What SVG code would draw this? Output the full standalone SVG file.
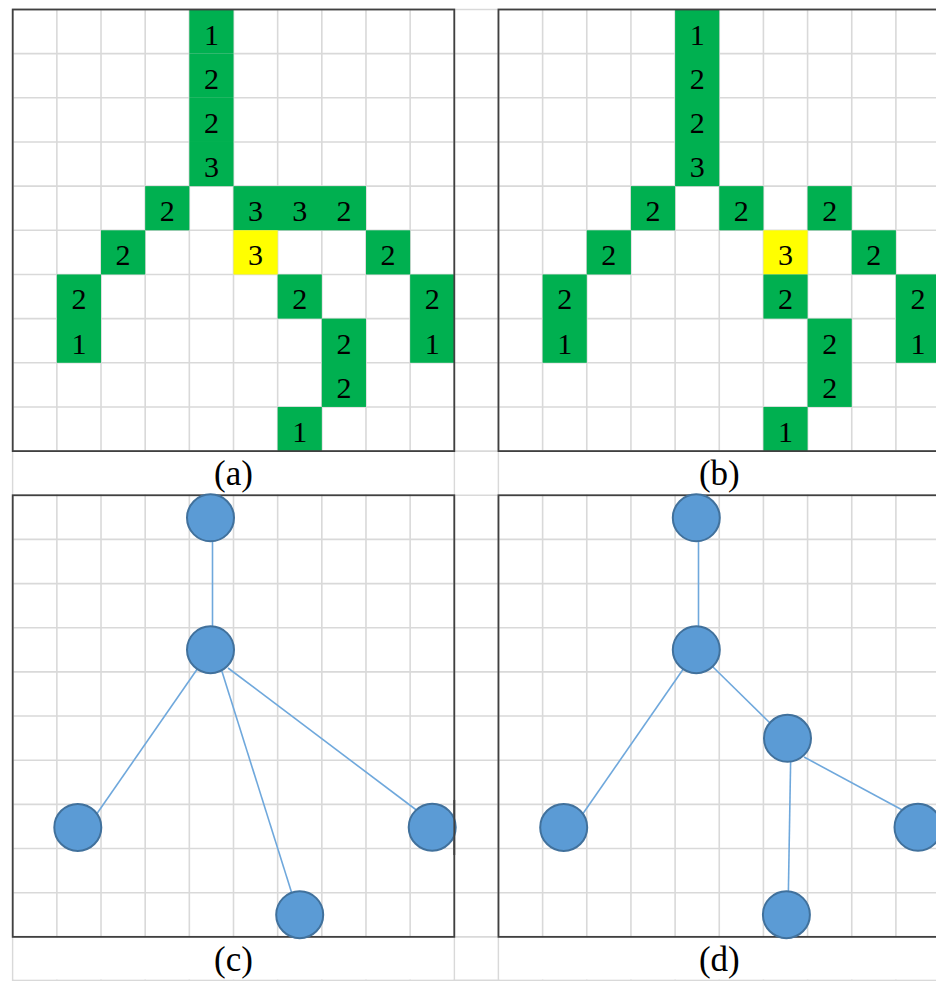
<svg xmlns="http://www.w3.org/2000/svg" width="936" height="981" viewBox="0 0 936 981">
<style>
.grid{stroke:#d9d9d9;stroke-width:1.6;fill:none}
.frame{stroke:#404040;stroke-width:1.8;fill:none}
.g{fill:#00b050}
.y{fill:#ffff00}
.num{font-family:"Liberation Serif","Times New Roman",serif;font-size:30px;fill:#000;text-anchor:middle}
.cap{font-family:"Liberation Serif","Times New Roman",serif;font-size:35px;fill:#000;text-anchor:middle}
.node{fill:#5b9bd5;stroke:#41719c;stroke-width:2}
.edge{stroke:#6fa8dc;stroke-width:1.6;fill:none}
</style>
<rect width="936" height="981" fill="#fff"/>
<g id="background-grid">
<path class="grid" d="M12.7 9.5V981M56.86 9.5V981M101.02 9.5V981M145.18 9.5V981M189.34 9.5V981M233.5 9.5V981M277.66 9.5V981M321.82 9.5V981M365.98 9.5V981M410.14 9.5V981M454.3 9.5V981M498.46 9.5V981M542.62 9.5V981M586.78 9.5V981M630.94 9.5V981M675.1 9.5V981M719.26 9.5V981M763.42 9.5V981M807.58 9.5V981M851.74 9.5V981M895.9 9.5V981"/>
<path class="grid" d="M12.7 9.5H936M12.7 53.66H936M12.7 97.82H936M12.7 141.98H936M12.7 186.14H936M12.7 230.3H936M12.7 274.46H936M12.7 318.62H936M12.7 362.78H936M12.7 406.94H936M12.7 451.1H936M12.7 495.26H936M12.7 539.42H936M12.7 583.58H936M12.7 627.74H936M12.7 671.9H936M12.7 716.06H936M12.7 760.22H936M12.7 804.38H936M12.7 848.54H936M12.7 892.7H936M12.7 936.86H936M12.7 980.2H936"/>
<rect x="13.6" y="452" width="439.8" height="42.4" fill="#fff"/>
<rect x="499.4" y="452" width="437" height="42.4" fill="#fff"/>
<rect x="13.6" y="937.8" width="439.8" height="41.6" fill="#fff"/>
<rect x="499.4" y="937.8" width="437" height="41.6" fill="#fff"/>
</g>
<g id="panel-a">
<g id="a-cells">
<rect class="g" x="189.34" y="9.5" width="44.16" height="44.16"/>
<rect class="g" x="189.34" y="53.66" width="44.16" height="44.16"/>
<rect class="g" x="189.34" y="97.82" width="44.16" height="44.16"/>
<rect class="g" x="189.34" y="141.98" width="44.16" height="44.16"/>
<rect class="g" x="145.18" y="186.14" width="44.16" height="44.16"/>
<rect class="g" x="233.5" y="186.14" width="132.48" height="44.16"/>
<rect class="g" x="101.02" y="230.3" width="44.16" height="44.16"/>
<rect class="y" x="233.5" y="230.3" width="44.16" height="44.16"/>
<rect class="g" x="365.98" y="230.3" width="44.16" height="44.16"/>
<rect class="g" x="56.86" y="274.46" width="44.16" height="88.32"/>
<rect class="g" x="277.66" y="274.46" width="44.16" height="44.16"/>
<rect class="g" x="410.14" y="274.46" width="44.16" height="88.32"/>
<rect class="g" x="321.82" y="318.62" width="44.16" height="88.32"/>
<rect class="g" x="277.66" y="406.94" width="44.16" height="44.16"/>
</g>
<g id="a-values">
<text class="num" x="211.42" y="44.5">1</text>
<text class="num" x="211.42" y="88.66">2</text>
<text class="num" x="211.42" y="132.82">2</text>
<text class="num" x="211.42" y="176.98">3</text>
<text class="num" x="167.26" y="221.14">2</text>
<text class="num" x="255.58" y="221.14">3</text>
<text class="num" x="299.74" y="221.14">3</text>
<text class="num" x="343.9" y="221.14">2</text>
<text class="num" x="123.1" y="265.3">2</text>
<text class="num" x="255.58" y="265.3">3</text>
<text class="num" x="388.06" y="265.3">2</text>
<text class="num" x="78.94" y="309.46">2</text>
<text class="num" x="299.74" y="309.46">2</text>
<text class="num" x="432.22" y="309.46">2</text>
<text class="num" x="78.94" y="353.62">1</text>
<text class="num" x="343.9" y="353.62">2</text>
<text class="num" x="432.22" y="353.62">1</text>
<text class="num" x="343.9" y="397.78">2</text>
<text class="num" x="299.74" y="441.94">1</text>
</g>
<rect class="frame" x="12.7" y="9.5" width="441.6" height="441.6"/>
<text class="cap" x="233.5" y="485">(a)</text>
</g>
<g id="panel-b">
<g id="b-cells">
<rect class="g" x="675.1" y="9.5" width="44.16" height="176.64"/>
<rect class="g" x="630.94" y="186.14" width="44.16" height="44.16"/>
<rect class="g" x="719.26" y="186.14" width="44.16" height="44.16"/>
<rect class="g" x="807.58" y="186.14" width="44.16" height="44.16"/>
<rect class="g" x="586.78" y="230.3" width="44.16" height="44.16"/>
<rect class="y" x="763.42" y="230.3" width="44.16" height="44.16"/>
<rect class="g" x="851.74" y="230.3" width="44.16" height="44.16"/>
<rect class="g" x="542.62" y="274.46" width="44.16" height="88.32"/>
<rect class="g" x="763.42" y="274.46" width="44.16" height="44.16"/>
<rect class="g" x="895.9" y="274.46" width="44.16" height="88.32"/>
<rect class="g" x="807.58" y="318.62" width="44.16" height="88.32"/>
<rect class="g" x="763.42" y="406.94" width="44.16" height="44.16"/>
</g>
<g id="b-values">
<text class="num" x="697.18" y="44.5">1</text>
<text class="num" x="697.18" y="88.66">2</text>
<text class="num" x="697.18" y="132.82">2</text>
<text class="num" x="697.18" y="176.98">3</text>
<text class="num" x="653.02" y="221.14">2</text>
<text class="num" x="741.34" y="221.14">2</text>
<text class="num" x="829.66" y="221.14">2</text>
<text class="num" x="608.86" y="265.3">2</text>
<text class="num" x="785.5" y="265.3">3</text>
<text class="num" x="873.82" y="265.3">2</text>
<text class="num" x="564.7" y="309.46">2</text>
<text class="num" x="785.5" y="309.46">2</text>
<text class="num" x="917.98" y="309.46">2</text>
<text class="num" x="564.7" y="353.62">1</text>
<text class="num" x="829.66" y="353.62">2</text>
<text class="num" x="917.98" y="353.62">1</text>
<text class="num" x="829.66" y="397.78">2</text>
<text class="num" x="785.5" y="441.94">1</text>
</g>
<rect class="frame" x="498.46" y="9.5" width="441.6" height="441.6"/>
<text class="cap" x="719.3" y="485">(b)</text>
</g>
<g id="panel-c-frame">
<rect class="frame" x="12.7" y="495.26" width="441.6" height="441.6"/>
<text class="cap" x="233.5" y="971">(c)</text>
</g>
<g id="panel-d-frame">
<rect class="frame" x="498.46" y="495.26" width="441.6" height="441.6"/>
<text class="cap" x="719.3" y="971">(d)</text>
</g>
<g id="connectors">
<line class="edge" x1="212.5" y1="535" x2="212.5" y2="632"/>
<line class="edge" x1="198" y1="668" x2="96" y2="815"/>
<line class="edge" x1="221.5" y1="670" x2="293" y2="897"/>
<line class="edge" x1="228" y1="668" x2="419" y2="812"/>
<line class="edge" x1="698.5" y1="535" x2="698.5" y2="632"/>
<line class="edge" x1="684" y1="668" x2="582" y2="815"/>
<line class="edge" x1="713" y1="667" x2="771" y2="724"/>
<line class="edge" x1="790.7" y1="757" x2="788.3" y2="896"/>
<line class="edge" x1="804" y1="757" x2="906" y2="812"/>
</g>
<g id="c-n1"><circle class="node" cx="210.5" cy="517.8" r="23.5"/></g>
<g id="c-n2"><circle class="node" cx="210.5" cy="649.7" r="23.5"/></g>
<g id="c-n3"><circle class="node" cx="77.8" cy="827.4" r="23.5"/></g>
<g id="c-n4"><circle class="node" cx="299.7" cy="914.7" r="23.5"/></g>
<g id="c-n5"><circle class="node" cx="432.2" cy="827.2" r="23.5"/></g>
<g id="d-n1"><circle class="node" cx="696.3" cy="517.8" r="23.5"/></g>
<g id="d-n2"><circle class="node" cx="696.3" cy="649.7" r="23.5"/></g>
<g id="d-n3"><circle class="node" cx="787.5" cy="738.3" r="23.5"/></g>
<g id="d-n4"><circle class="node" cx="563.7" cy="827.4" r="23.5"/></g>
<g id="d-n5"><circle class="node" cx="786.4" cy="914.7" r="23.5"/></g>
<g id="d-n6"><circle class="node" cx="918" cy="827.3" r="23.5"/></g>
<line class="frame" x1="454.3" y1="800" x2="454.3" y2="855"/>
</svg>
